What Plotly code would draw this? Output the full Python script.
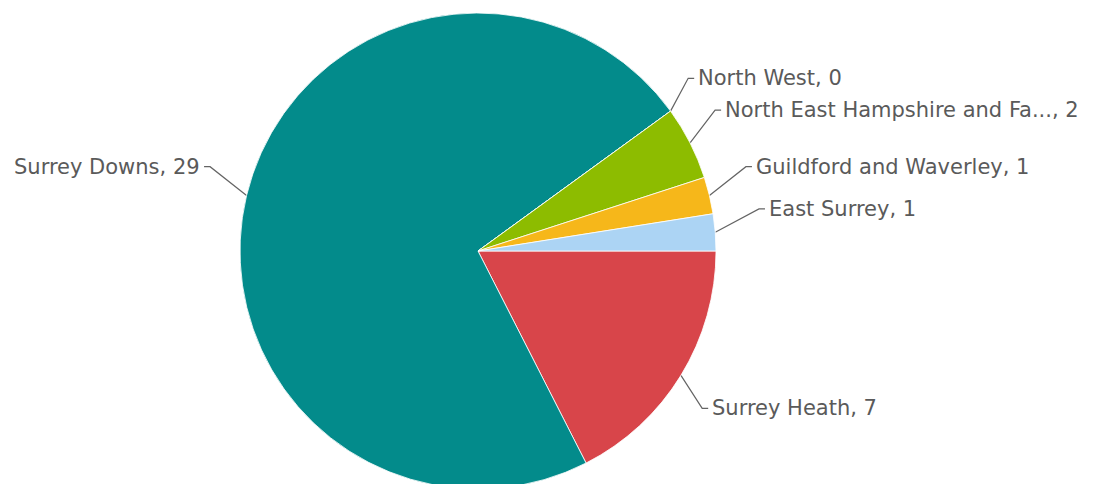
import math
import plotly.graph_objects as go

# ---- data ----
regions = ["Surrey Heath", "Surrey Downs", "North West",
           "North East Hampshire and Fa...", "Guildford and Waverley", "East Surrey"]
counts = [7, 29, 0, 2, 1, 1]
colors = ["#d8454a", "#038b8b", "#1f6fb4", "#8dbc00", "#f6b71a", "#acd4f4"]

# ---- geometry (pixels) ----
W, H = 1109, 500
CX, CY, R = 478, 251, 238
FONT = dict(family="DejaVu Sans, Verdana, sans-serif", size=21, color="#5a5a5a")

fig = go.Figure()
fig.add_trace(go.Pie(
    labels=regions, values=counts, sort=False, direction="clockwise", rotation=90,
    marker=dict(colors=colors, line=dict(color="rgba(255,255,255,0.8)", width=1)),
    textinfo="none", hoverinfo="label+value", showlegend=False,
    domain=dict(x=[(CX - R) / W, (CX + R) / W], y=[(H - CY - R) / H, (H - CY + R) / H]),
))

# label leaders computed from slice mid-angles
total = sum(counts)
cum = 0.0
annotations = []
for name, v in zip(regions, counts):
    mid = (cum + v / 2) / total * 2 * math.pi  # clockwise from 3 o'clock (screen coords, y down)
    cum += v
    ca, sa = math.cos(mid), math.sin(mid)
    elev = abs(math.degrees(math.asin(max(-1, min(1, sa)))))
    d = 47 - 0.7 * elev
    ex, ey = CX + R * ca, CY + R * sa
    kx = CX + (R + d) * ca
    ky = CY + (R + d) * sa + (20 if sa > 0 else -20)
    side = 1 if ca >= 0 else -1
    hx = kx + 6 * side
    fig.add_trace(go.Scatter(x=[ex, kx, hx], y=[ey, ky, ky], mode="lines",
                             line=dict(color="#646464", width=1.2), hoverinfo="skip",
                             showlegend=False, xaxis="x", yaxis="y"))
    annotations.append(dict(x=hx + 2 * side, y=ky, xref="x", yref="y",
                            text=f"{name}, {v}", showarrow=False,
                            xanchor="left" if side > 0 else "right", yanchor="middle",
                            font=FONT))

fig.update_layout(
    width=W, height=H, margin=dict(l=0, r=0, t=0, b=0),
    paper_bgcolor="white", plot_bgcolor="rgba(0,0,0,0)",
    xaxis=dict(range=[0, W], visible=False, fixedrange=True),
    yaxis=dict(range=[H, 0], visible=False, fixedrange=True),
    annotations=annotations,
)

fig.write_html("out.html", config={"displayModeBar": False},
               post_script="document.body.style.margin='0';document.body.style.overflow='hidden';")
